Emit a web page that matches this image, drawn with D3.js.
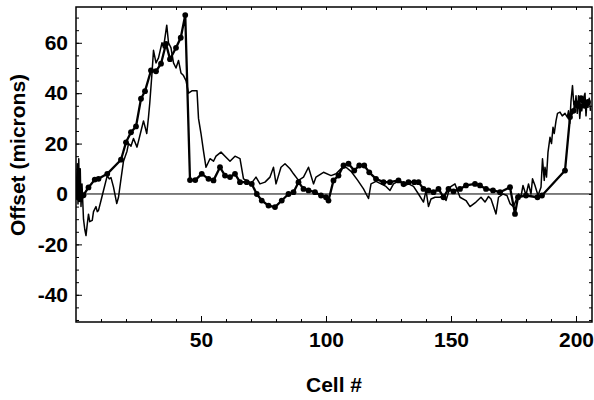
<!DOCTYPE html>
<html>
<head>
<meta charset="utf-8">
<script src="https://cdn.jsdelivr.net/npm/d3@7"></script>
<style>
  html, body { margin: 0; padding: 0; background: #fff; }
  svg { display: block; }
  text { font-family: "Liberation Sans", Arial, Helvetica, sans-serif; font-weight: bold; fill: #000; }
</style>
</head>
<body>
<svg id="chart" width="594" height="400"></svg>
<script>
// ---- Data ----
// Thin (un-marked) trace: cell positions and offsets (microns)
const thinCells = [0,0.5,0.8,1.1,1.4,1.7,2.0,2.4,3,3.5,4,4.5,5,5.5,6.5,7,8,8.5,9,10,11,12.5,13.3,14,15,16.3,17,18,19,20.4,21,22,23,24.4,25,26,27,28.3,29,29.5,30.4,31,32,33,34.4,35,36.3,37,38,39,40,41,42,43,44,45,46.5,48.4,49,50,51,52,53.6,55,56,58,60,61.6,63.6,65.6,67,69,70,72,73.6,75.6,77.6,79,80,82,83.6,85.6,87,89,91,93,95,96,99,102,104,106,108,110,112.7,115,117,118,120,122,124,125.6,127,129.6,131,133,135,137,139,140,141,142,143.6,145.6,147,148,149.6,151.6,153.6,156,157.6,160,162,163.6,165,166,168,169,170.8,172.4,173.6,175,177,178,178.8,180,181,182,182.6,183.6,184.8,186,186.6,187.3,187.6,188.2,188.8,189.6,190.2,190.8,191.3,192,192.6,193.6,194.5,195.6,196.5,197,197.5,198,198.6,199,199.5,200,200.5,201,201.5,202,202.3,203,203.6,204,204.4,204.8,205.3,205.8];
const thinOffsets = [-2,12,-4,14,-3,10,-5,4,-10,-14,-16.5,-12,-8,-11,-10.5,-7,-5,-7,-6.5,-2.6,1.4,7.3,6,6.5,2.7,-3.8,-1.3,6,13,17,20,19,22,18.6,21,25,29,24,30.5,36,48,57,52,54,60,58,67,60,58,52,50,53,48,47,45,40,41,41,30,24,17,10.6,14,13,15,16.6,14.6,13,15,14,6,5,4,6.7,4,4.7,6.7,10.6,4,10.6,12,10,8,5.4,6.7,10.6,4,6.7,8.6,7.3,8,10,10.6,9,5.4,2,-1.8,4,5,4,3,1.4,4,5.4,3,4,3,0,-3.2,1.4,-5,-2,-1.3,-1.3,-0.6,-2.6,2.7,4,-1.3,-2.6,-5,-3.2,-1.3,-3.2,-1,-2,-7.9,-1.3,0,-0.6,-3.8,-5,0,-1,3.4,-0.5,4,0,6,3.4,-0.6,2.7,14,5.4,10.6,6.7,16.6,22.5,20,26.5,24,29,32,32.5,31,32,30.5,33,28,37,43,37,33,39,32,39,30,36,33,38,40,31,37,34.4,38,33];

// Marked (dotted) trace: cell positions and offsets (microns)
const dotCells = [0,1,2,3,5,7.5,9,12.5,18,20,22,24,26,27.6,30,32,34,36,37.6,40,41.9,43.7,45.6,47.7,50.3,53,55,57.6,59.6,61.6,63.6,65.6,68.3,70.3,72.3,74.3,77,79.6,82.3,85,87,89,91,93,95.6,98,100,101,103,105,107,109,111.3,113.3,115.3,117.3,120,123,125.6,129,131,133,135.3,137,139,141,143,145,147,149,151,153.6,156,159.6,161.6,164,166.8,169.6,173.6,175.6,176.8,180,184.6,186.4,195.6,197.6,199,200,201,202,202.8,203.5,204.8];
const dotOffsets = [0,-1.5,-1,-0.5,2.6,5.7,6,8,13.6,20.5,24.5,26.8,37.8,40.8,49,48.7,51.7,59.6,53.5,58,62,71,5.5,5.5,8,6,5.4,10.6,7.3,6.7,8,4.7,4.7,4,0,-2.6,-4.6,-5.2,-2.6,0,0.7,4.7,2,1.4,0.7,-0.6,-1.3,-2.6,5.4,7.3,11.3,12,9.3,11.3,11.3,8.6,6,4.7,4.7,5.4,4,4.7,4.7,4.7,2,1.4,0.7,2,-1.3,2,1,2,3.4,4,3.4,2,1.4,0.7,2.7,-7.9,-1.3,-0.6,-1.3,-0.6,9.3,30.5,33,36,35,38,37,35,36.5];

// Axis ticks
const xTickValues = [50, 100, 150, 200];
const yTickValues = [-40, -20, 0, 20, 40, 60];
const xTitle = "Cell #";
const yTitle = "Offset (microns)";

// ---- Layout ----
const svg = d3.select("#chart");
const mLeft = 76, mRight = 592, mTop = 7, mBottom = 322;

const x = d3.scaleLinear().domain([0, 206.4]).range([mLeft, mRight]);
const y = d3.scaleLinear().domain([-50.8, 74.2]).range([mBottom, mTop]);

// clip
svg.append("defs").append("clipPath").attr("id", "clip")
  .append("rect").attr("x", mLeft).attr("y", mTop).attr("width", mRight - mLeft).attr("height", mBottom - mTop);

// zero line
svg.append("line")
  .attr("x1", mLeft).attr("x2", mRight)
  .attr("y1", y(0)).attr("y2", y(0))
  .attr("stroke", "#000").attr("stroke-width", 1);

const thinData = thinCells.map((c, i) => [c, thinOffsets[i]]);
const dotData = dotCells.map((c, i) => [c, dotOffsets[i]]);

const line = d3.line().x(d => x(d[0])).y(d => y(d[1]));

const g = svg.append("g").attr("clip-path", "url(#clip)");
g.append("path").datum(thinData)
  .attr("d", line).attr("fill", "none")
  .attr("stroke", "#000").attr("stroke-width", 1.5).attr("stroke-linejoin", "round");

g.append("path").datum(dotData)
  .attr("d", line).attr("fill", "none")
  .attr("stroke", "#000").attr("stroke-width", 2.3).attr("stroke-linejoin", "round");

g.selectAll("circle.dot").data(dotData).enter().append("circle")
  .attr("class", "dot")
  .attr("cx", d => x(d[0])).attr("cy", d => y(d[1])).attr("r", 2.9)
  .attr("fill", "#000");

// ---- Axes (ticks inside on all sides) ----
const xMinor = d3.range(10, 206, 10);
const yMinor = d3.range(-50, 75, 5);

const axB = svg.append("g").attr("transform", `translate(0,${mBottom})`)
  .call(d3.axisBottom(x).tickValues(xMinor).tickSize(-3).tickFormat(""));
const axT = svg.append("g").attr("transform", `translate(0,${mTop})`)
  .call(d3.axisTop(x).tickValues(xMinor).tickSize(-3).tickFormat(""));
const axL = svg.append("g").attr("transform", `translate(${mLeft},0)`)
  .call(d3.axisLeft(y).tickValues(yMinor).tickSize(-3).tickFormat(""));
const axR = svg.append("g").attr("transform", `translate(${mRight},0)`)
  .call(d3.axisRight(y).tickValues(yMinor).tickSize(-3).tickFormat(""));
[axB, axT, axL, axR].forEach(a => {
  a.select(".domain").remove();
  a.selectAll("line").attr("stroke", "#000").attr("stroke-width", 1);
});

// major ticks + labels (plain hyphen-minus as in the reference)
const fmt = d => String(d);
const axBM = svg.append("g").attr("transform", `translate(0,${mBottom})`)
  .call(d3.axisBottom(x).tickValues(xTickValues).tickSize(-6).tickPadding(10).tickFormat(fmt));
const axLM = svg.append("g").attr("transform", `translate(${mLeft},0)`)
  .call(d3.axisLeft(y).tickValues(yTickValues).tickSize(-6).tickPadding(8).tickFormat(fmt));
[axBM, axLM].forEach(a => {
  a.select(".domain").remove();
  a.selectAll("line").attr("stroke", "#000").attr("stroke-width", 1);
  a.selectAll("text").attr("font-size", 21).attr("font-family", "Liberation Sans, Arial, sans-serif").attr("font-weight", "bold");
});
axBM.selectAll("text").attr("dy", "0.71em");

// frame
svg.append("rect").attr("x", mLeft).attr("y", mTop).attr("width", mRight - mLeft).attr("height", mBottom - mTop)
  .attr("fill", "none").attr("stroke", "#000").attr("stroke-width", 1.5);

// titles
svg.append("text").attr("x", (mLeft + mRight) / 2).attr("y", 392)
  .attr("text-anchor", "middle").attr("font-size", 21).text(xTitle);
svg.append("text").attr("transform", `translate(25,155) rotate(-90)`)
  .attr("text-anchor", "middle").attr("font-size", 21).text(yTitle);
</script>
</body>
</html>
